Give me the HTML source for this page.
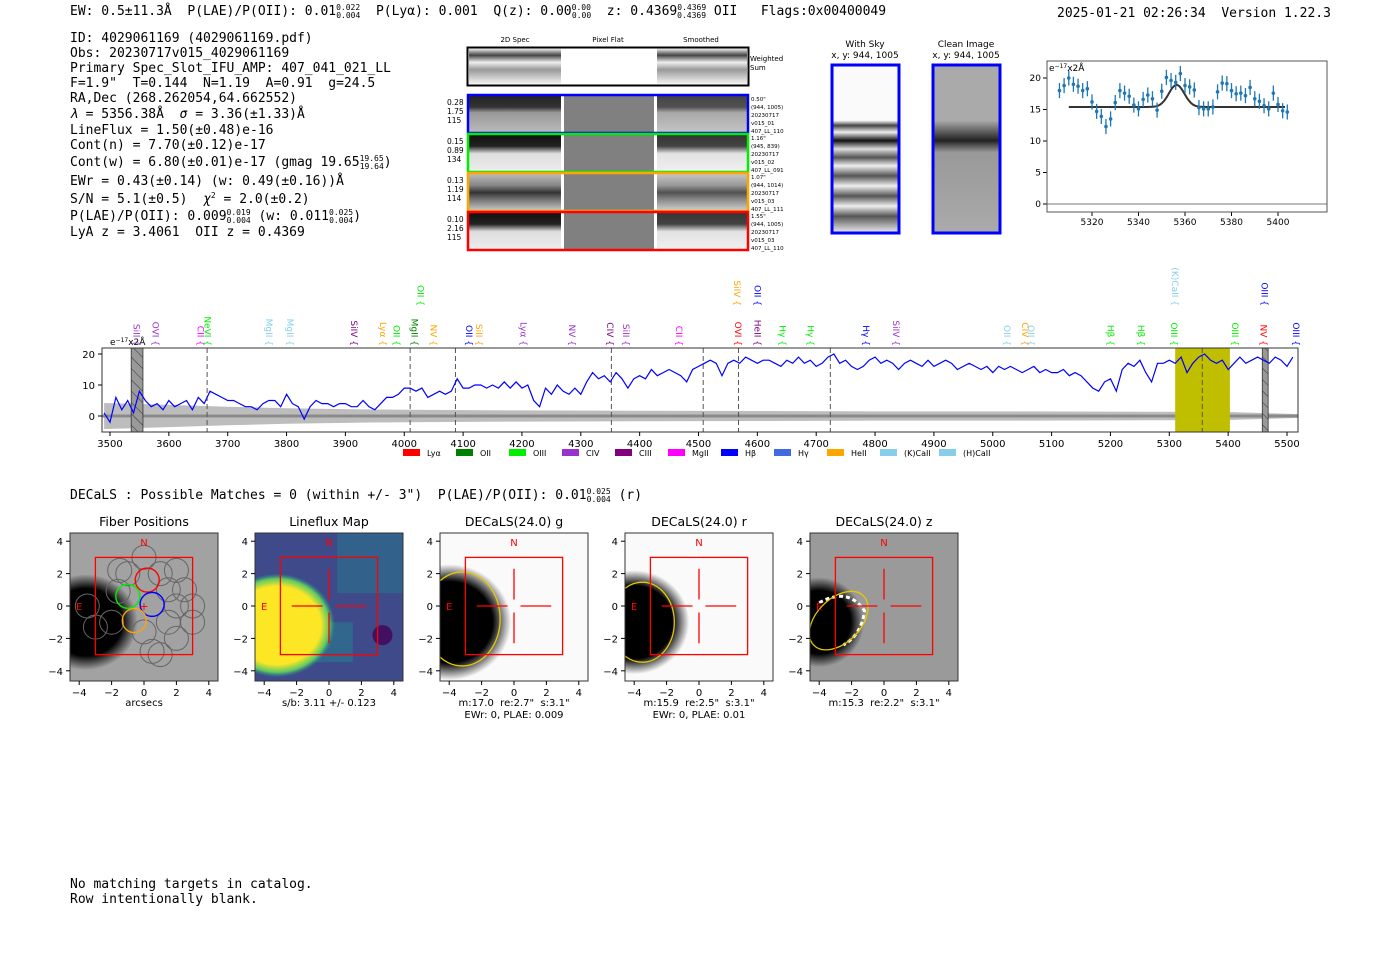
<!DOCTYPE html>
<html><head><meta charset="utf-8">
<style>
html,body{margin:0;padding:0;background:#fff;width:1400px;height:953px;overflow:hidden}
svg{display:block}
text{white-space:pre}
.mono{font-family:"DejaVu Sans Mono","Liberation Mono",monospace;font-size:13px;fill:#000;white-space:pre}
.sans{font-family:"DejaVu Sans","Liberation Sans",sans-serif;fill:#000}
</style></head>
<body>
<svg id="root" width="1400" height="953" viewBox="0 0 1400 953" xmlns="http://www.w3.org/2000/svg" xml:space="preserve">
<defs>
<pattern id="hatch" width="8" height="8" patternUnits="userSpaceOnUse" patternTransform="rotate(-45)">
<rect width="8" height="8" fill="#999"/><line x1="0" y1="0" x2="0" y2="8" stroke="#333" stroke-width="1"/></pattern>
<radialGradient id="blob" cx="50%" cy="50%" r="50%"><stop offset="0.7" stop-color="#000"/><stop offset="1" stop-color="#000" stop-opacity="0"/></radialGradient>
<radialGradient id="yblob" cx="50%" cy="50%" r="50%"><stop offset="0.75" stop-color="#fde725"/><stop offset="0.9" stop-color="#5ec962"/><stop offset="1" stop-color="#21918c" stop-opacity="0"/></radialGradient>
<linearGradient id="rowA" x1="0" y1="0" x2="0" y2="1"><stop offset="0" stop-color="#222"/><stop offset="0.3" stop-color="#333"/><stop offset="0.45" stop-color="#999"/><stop offset="1" stop-color="#bbb"/></linearGradient>
<linearGradient id="rowB" x1="0" y1="0" x2="0" y2="1"><stop offset="0" stop-color="#111"/><stop offset="0.3" stop-color="#222"/><stop offset="0.5" stop-color="#ddd"/><stop offset="1" stop-color="#eee"/></linearGradient>
<linearGradient id="rowC" x1="0" y1="0" x2="0" y2="1"><stop offset="0" stop-color="#bbb"/><stop offset="0.3" stop-color="#888"/><stop offset="0.5" stop-color="#333"/><stop offset="0.7" stop-color="#777"/><stop offset="1" stop-color="#ccc"/></linearGradient>
<linearGradient id="wsum" x1="0" y1="0" x2="0" y2="1"><stop offset="0" stop-color="#fff"/><stop offset="0.2" stop-color="#444"/><stop offset="0.4" stop-color="#eee"/><stop offset="0.6" stop-color="#999"/><stop offset="1" stop-color="#f4f4f4"/></linearGradient>
<linearGradient id="skyG" x1="0" y1="0" x2="0" y2="1"><stop offset="0" stop-color="#fafafa"/><stop offset="0.33" stop-color="#fafafa"/><stop offset="0.36" stop-color="#444"/><stop offset="0.4" stop-color="#eee"/><stop offset="0.45" stop-color="#111"/><stop offset="0.5" stop-color="#ddd"/><stop offset="0.55" stop-color="#555"/><stop offset="0.6" stop-color="#eee"/><stop offset="0.66" stop-color="#555"/><stop offset="0.72" stop-color="#eee"/><stop offset="0.78" stop-color="#555"/><stop offset="0.84" stop-color="#eee"/><stop offset="0.9" stop-color="#555"/><stop offset="1" stop-color="#eee"/></linearGradient>
<linearGradient id="cleanG" x1="0" y1="0" x2="0" y2="1"><stop offset="0" stop-color="#aaa"/><stop offset="0.33" stop-color="#aaa"/><stop offset="0.36" stop-color="#888"/><stop offset="0.45" stop-color="#222"/><stop offset="0.52" stop-color="#999"/><stop offset="1" stop-color="#aaa"/></linearGradient>
</defs>

<text class="mono" x="70" y="15">EW: 0.5±11.3Å  P(LAE)/P(OII): 0.01<tspan font-size="8" dy="-5">0.022</tspan><tspan font-size="8" dx="-24" dy="8">0.004</tspan><tspan dy="-3">  P(Lyα): 0.001  Q(z): 0.00</tspan><tspan font-size="8" dy="-5">0.00</tspan><tspan font-size="8" dx="-19" dy="8">0.00</tspan><tspan dy="-3">  z: 0.4369</tspan><tspan font-size="8" dy="-5">0.4369</tspan><tspan font-size="8" dx="-29" dy="8">0.4369</tspan><tspan dy="-3"> OII   Flags:0x00400049</tspan></text>
<text class="mono" x="1057" y="17">2025-01-21 02:26:34  Version 1.22.3</text>

<g class="mono">
<text class="mono" x="70" y="42">ID: 4029061169 (4029061169.pdf)</text>
<text class="mono" x="70" y="57">Obs: 20230717v015_4029061169</text>
<text class="mono" x="70" y="72">Primary Spec_Slot_IFU_AMP: 407_041_021_LL</text>
<text class="mono" x="70" y="87">F=1.9"  T=0.144  N=1.19  A=0.91  g=24.5</text>
<text class="mono" x="70" y="102">RA,Dec (268.262054,64.662552)</text>
<text class="mono" x="70" y="118"><tspan font-style="italic">λ</tspan> = 5356.38Å  <tspan font-style="italic">σ</tspan> = 3.36(±1.33)Å</text>
<text class="mono" x="70" y="134">LineFlux = 1.50(±0.48)e-16</text>
<text class="mono" x="70" y="149">Cont(n) = 7.70(±0.12)e-17</text>
<text class="mono" x="70" y="166">Cont(w) = 6.80(±0.01)e-17 (gmag 19.65<tspan font-size="8" dy="-5">19.65</tspan><tspan font-size="8" dx="-24" dy="8">19.64</tspan><tspan dy="-3">)</tspan></text>
<text class="mono" x="70" y="185">EWr = 0.43(±0.14) (w: 0.49(±0.16))Å</text>
<text class="mono" x="70" y="203">S/N = 5.1(±0.5)  <tspan font-style="italic">χ</tspan><tspan font-size="8" dy="-5">2</tspan><tspan dy="5"> = 2.0(±0.2)</tspan></text>
<text class="mono" x="70" y="220">P(LAE)/P(OII): 0.009<tspan font-size="8" dy="-5">0.019</tspan><tspan font-size="8" dx="-24" dy="8">0.004</tspan><tspan dy="-3"> (w: 0.011</tspan><tspan font-size="8" dy="-5">0.025</tspan><tspan font-size="8" dx="-24" dy="8">0.004</tspan><tspan dy="-3">)</tspan></text>
<text class="mono" x="70" y="236">LyA z = 3.4061  OII z = 0.4369</text>
</g>

<g font-family="DejaVu Sans, Liberation Sans, sans-serif">
<text x="515" y="42" font-size="7" text-anchor="middle">2D Spec</text>
<text x="608" y="42" font-size="7" text-anchor="middle">Pixel Flat</text>
<text x="701" y="42" font-size="7" text-anchor="middle">Smoothed</text>
<g>
<rect x="469" y="48" width="92" height="36" fill="url(#wsum)"/>
<rect x="657" y="48" width="90" height="36" fill="url(#wsum)"/>
<rect x="467.5" y="47.5" width="281" height="38" fill="none" stroke="#000" stroke-width="2"/>
<text x="750" y="61" font-size="7">Weighted</text><text x="750" y="70" font-size="7">Sum</text>
</g>
<g id="rows"></g>
</g>

<g font-family="DejaVu Sans, Liberation Sans, sans-serif">
<text x="865" y="47" font-size="9" text-anchor="middle">With Sky</text>
<text x="865" y="58" font-size="9" text-anchor="middle">x, y: 944, 1005</text>
<rect x="832" y="65" width="67" height="168" fill="url(#skyG)" stroke="#00f" stroke-width="3"/>
</g>
<g font-family="DejaVu Sans, Liberation Sans, sans-serif">
<text x="966" y="47" font-size="9" text-anchor="middle">Clean Image</text>
<text x="966" y="58" font-size="9" text-anchor="middle">x, y: 944, 1005</text>
<rect x="933" y="65" width="67" height="168" fill="url(#cleanG)" stroke="#00f" stroke-width="3"/>
</g>

<g id="zoomfit"></g>
<g id="spec"></g>

<text class="mono" x="70" y="499">DECaLS : Possible Matches = 0 (within +/- 3")  P(LAE)/P(OII): 0.01<tspan font-size="8" dy="-5">0.025</tspan><tspan font-size="8" dx="-24" dy="8">0.004</tspan><tspan dy="-3"> (r)</tspan></text>

<g id="panels"></g>

<text class="mono" x="70" y="888">No matching targets in catalog.</text>
<text class="mono" x="70" y="903">Row intentionally blank.</text>
</svg>

<script>
// ===== Full spectrum data (flux, e-17, every 10 A from 3490) =====
const specStart = 3490;
const specStep = 10;
const specFlux = [1,-2,6,2,5,1,8,5,3,4, 2,5,3,4,5,2,6,4,8,7, 6,5,5,4,3,3,2,4,5,5, 3,7,4,3,-1,3,5,4,4,3,
 4,4,3,3,5,3,2,4,6,6, 7,9,9,8,9,6,7,8,7,8, 12,9,9,10,10,9,10,9,11,9, 11,9,10,5,3,9,7,10,8,7,
 9,7,11,14,12,13,11,14,12,9, 12,13,12,15,13,14,15,14,13,11, 15,16,17,18,17,13,17,18,17,19, 18,17,18,18,17,16,18,17,19,17,
 18,16,17,19,20,17,18,16,15,16, 18,19,17,18,17,15,17,18,17,16, 18,16,17,18,17,15,16,17,16,15, 16,14,16,15,16,15,14,15,16,14,
 15,14,14,15,13,14,13,11,9,8, 11,12,8,15,17,16,18,14,11,17, 17,18,17,19,14,17,19,20,18,17, 18,15,17,19,17,18,19,18,17,19, 18,16,19];
const errWave = [3490,3600,3700,3800,3900,4000,4200,4400,4600,4800,5000,5200,5400,5519];
const errVal  = [4.2,3.6,3.0,2.5,2.2,2.0,1.8,1.7,1.6,1.5,1.5,1.4,1.3,0.6];
const specTicks = [3500,3600,3700,3800,3900,4000,4100,4200,4300,4400,4500,4600,4700,4800,4900,5000,5100,5200,5300,5400,5500];
const specYTicks = [0,10,20];
const dashedLines = [3665,4010,4087,4352,4508,4568,4724,5356];
const lineNames = ["SiII","OVI","CII","NeVI","MgII","MgII","SiIV","Lyα","OII","MgII","NV","OII","SiII","Lyα","NV","CIV","SiII","CII","OVI","HeII","Hγ","Hγ","Hγ","SiIV","OII","CIV","OII","Hβ","Hβ","OIII","OIII","NV","OIII"];
const lineWaves = [3545,3577,3654,3666,3770,3806,3915,3964,3987,4017,4050,4110,4127,4203,4285,4350,4377,4467,4567,4600,4643,4690,4785,4836,5024,5055,5065,5200,5252,5308,5412,5460,5515];
const lineColors = ["#9932cc","#9932cc","#ff00ff","#00ee00","#87ceeb","#87ceeb","#800080","#ffa500","#00ee00","#008000","#ffa500","#0000ff","#ffa500","#9932cc","#9932cc","#800080","#9932cc","#ff00ff","#ff0000","#800080","#00ee00","#00ee00","#0000ff","#9932cc","#87ceeb","#ffa500","#87ceeb","#00ee00","#00ee00","#00ee00","#00ee00","#ff0000","#0000ff"];
const line2Names = ["OII","SiIV","OII","(K)CaII","OIII"];
const line2Waves = [4028,4565,4600,5310,5462];
const line2Colors = ["#00ee00","#ffa500","#0000ff","#87ceeb","#0000ff"];
const legendNames = ["Lyα","OII","OIII","CIV","CIII","MgII","Hβ","Hγ","HeII","(K)CaII","(H)CaII"];
const legendColors = ["#ff0000","#008000","#00ee00","#9932cc","#800080","#ff00ff","#0000ff","#4169e1","#ffa500","#87ceeb","#87ceeb"];

// ===== Zoomed fit data =====
const fitStart = 5306, fitStep = 2;
const fitFlux = [18,18.8,20,19,18.7,18,18.3,16.2,14.7,13.9,12.3,13.5,16.1,18,17.6,17.1,15.7,15.1,16.6,17.3,16.7,14.9,17.9,20.1,19.6,19.3,20.7,18.8,18.6,18.1,15.3,15.1,15.1,15.4,17.8,19.2,19.1,18,17.5,17.6,17.2,18.5,16.7,16.3,15.6,15.1,17.6,15.8,14.8,14.6];
const fitErr = 1.2;
const fitCont = 15.4, fitAmp = 3.5, fitMu = 5356.38, fitSigma = 3.36;
const fitXTicks = [5320,5340,5360,5380,5400];
const fitYTicks = [0,5,10,15,20];

const NS = "http://www.w3.org/2000/svg";
function mk(tag, attrs, parent, txt){ const e=document.createElementNS(NS,tag); for(const k in attrs) e.setAttribute(k,attrs[k]); if(txt!==undefined) e.textContent=txt; parent.appendChild(e); return e; }
const FONT = "DejaVu Sans, Liberation Sans, sans-serif";

(function(){
  const g=document.getElementById('rows');
  const rows=[{y:95,c:"#0000ff",f:"url(#rowA)",n:["0.28","1.75","115"],t:['0.50"','(944, 1005)','20230717','v015_01','407_LL_110']},
              {y:134,c:"#00ee00",f:"url(#rowB)",n:["0.15","0.89","134"],t:['1.16"','(945, 839)','20230717','v015_02','407_LL_091']},
              {y:173,c:"#ffa500",f:"url(#rowC)",n:["0.13","1.19","114"],t:['1.07"','(944, 1014)','20230717','v015_03','407_LL_111']},
              {y:212,c:"#ff0000",f:"url(#rowB)",n:["0.10","2.16","115"],t:['1.55"','(944, 1005)','20230717','v015_03','407_LL_110']}];
  rows.forEach((r,i)=>{
    const rg=mk('g',{},g);
    
    
    mk('rect',{x:469,y:r.y+1,width:92,height:37,fill:r.f},rg);
    mk('rect',{x:564,y:r.y+1,width:90,height:37,fill:"#808080"},rg);
    mk('rect',{x:657,y:r.y+1,width:90,height:37,fill:r.f,opacity:0.85},rg);
    mk('rect',{x:468,y:r.y,width:280,height:38,fill:"none",stroke:r.c,"stroke-width":2.5},rg);
    r.n.forEach((s,j)=>mk('text',{x:447,y:r.y+10+j*9,"font-size":7.5,"font-family":FONT},rg,s));
    r.t.forEach((s,j)=>mk('text',{x:751,y:r.y+6+j*8,"font-size":5.5,"font-family":FONT},rg,s));
  });
})();

(function(){
  const g=document.getElementById('zoomfit');
  const L=1047,R=1327,T=61,B=212;
  const xs=w=>1092+(w-5320)*2.325, ys=v=>204-v*6.3;
  mk('line',{x1:L,x2:R,y1:ys(0),y2:ys(0),stroke:"#777","stroke-width":1},g);
  fitXTicks.forEach(t=>{ mk('line',{x1:xs(t),x2:xs(t),y1:B,y2:B+4,stroke:"#000"},g); const tx=mk('text',{x:xs(t),y:B+13,"font-size":9,"text-anchor":"middle","font-family":FONT},g,t);   });
  fitYTicks.forEach(t=>{ mk('line',{x1:L-4,x2:L,y1:ys(t),y2:ys(t),stroke:"#000"},g); const tx=mk('text',{x:L-6,y:ys(t)+3,"font-size":9,"text-anchor":"end","font-family":FONT},g,t);   });
  let d="";
  for(let w=5310;w<=5403;w+=0.5){ const v=fitCont+fitAmp*Math.exp(-0.5*Math.pow((w-fitMu)/fitSigma,2)); d+=(d?"L":"M")+xs(w).toFixed(1)+","+ys(v).toFixed(1); }
  const m=mk('path',{d:d,fill:"none",stroke:"#333","stroke-width":2},g);
   
  fitFlux.forEach((v,i)=>{
    const x=xs(fitStart+i*fitStep);
    const pt=mk('g',{},g);
     
    mk('line',{x1:x,x2:x,y1:ys(v-fitErr),y2:ys(v+fitErr),stroke:"#1f77b4","stroke-width":1.3},pt);
    mk('circle',{cx:x,cy:ys(v),r:1.8,fill:"#1f77b4"},pt);
  });
  mk('rect',{x:L,y:T,width:R-L,height:B-T,fill:"none",stroke:"#555","stroke-width":1},g);
  const u=mk('text',{x:L+2,y:T+10,"font-size":9,"font-family":FONT},g,"e");
  mk('tspan',{"font-size":6,dy:-3},u,"−17"); mk('tspan',{dy:3},u,"x2Å");
})();

(function(){
  const g=document.getElementById('spec');
  const L=102,R=1298,T=348,B=432;
  const xs=w=>110+(w-3500)*0.5885, ys=v=>416-v*3.1;
  let up="",dn="";
  for(let i=0;i<errWave.length;i++){ up+=(i?"L":"M")+xs(errWave[i])+","+ys(errVal[i]); }
  for(let i=errWave.length-1;i>=0;i--){ dn+="L"+xs(errWave[i])+","+ys(-errVal[i]); }
  const band=mk('path',{d:up+dn+"Z",fill:"#bdbdbd"},g);
   
  mk('line',{x1:L,x2:R,y1:ys(0),y2:ys(0),stroke:"#8a8a8a","stroke-width":3},g);
  const hb=mk('rect',{x:xs(5310),y:T,width:xs(5403)-xs(5310),height:B-T,fill:"#bfbf00"},g);
   
  [[3536,3556],[5458,5468]].forEach(p=>{ const r=mk('rect',{x:xs(p[0]),y:T,width:xs(p[1])-xs(p[0]),height:B-T,fill:"url(#hatch)",stroke:"#333","stroke-width":0.8},g);   });
  dashedLines.forEach(w=>{ const l=mk('line',{x1:xs(w),x2:xs(w),y1:T,y2:B,stroke:"#555","stroke-dasharray":"5,3","stroke-width":1},g);   });
  let d="";
  specFlux.forEach((v,i)=>{ d+=(i?"L":"M")+xs(specStart+i*specStep).toFixed(1)+","+ys(v).toFixed(1); });
  const sp=mk('path',{d:d,fill:"none",stroke:"#0000ff","stroke-width":1.2},g);
   
  mk('rect',{x:L,y:T,width:R-L,height:B-T,fill:"none",stroke:"#333","stroke-width":1},g);
  specTicks.forEach(t=>{ mk('line',{x1:xs(t),x2:xs(t),y1:B,y2:B+4,stroke:"#000"},g); const tx=mk('text',{x:xs(t),y:B+15,"font-size":10,"text-anchor":"middle","font-family":FONT},g,t);   });
  specYTicks.forEach(t=>{ mk('line',{x1:L-4,x2:L,y1:ys(t),y2:ys(t),stroke:"#000"},g); const tx=mk('text',{x:L-7,y:ys(t)+4,"font-size":10,"text-anchor":"end","font-family":FONT},g,t);   });
  const u=mk('text',{x:110,y:345,"font-size":9,"font-family":FONT},g,"e");
  mk('tspan',{"font-size":6,dy:-3},u,"−17"); mk('tspan',{dy:3},u,"x2Å");
  lineNames.forEach((n,i)=>{ const x=xs(lineWaves[i]); const t=mk('text',{x:x,y:346,"font-size":9,"text-anchor":"end",fill:lineColors[i],"font-family":FONT,transform:"rotate(90 "+x+" 346)",dy:"3"},g,n+" {");   });
  line2Names.forEach((n,i)=>{ const x=xs(line2Waves[i]); const t=mk('text',{x:x,y:306,"font-size":9,"text-anchor":"end",fill:line2Colors[i],"font-family":FONT,transform:"rotate(90 "+x+" 306)",dy:"3"},g,n+" {");   });
  let lx=403;
  legendNames.forEach((n,i)=>{ const lg=mk('g',{},g);  
    mk('rect',{x:lx,y:449,width:17,height:7,fill:legendColors[i]},lg);
    mk('text',{x:lx+24,y:456,"font-size":8,"font-family":FONT},lg,n); lx+= (n.length>5?59:53); });
})();

(function(){
  const g=document.getElementById('panels');
  const panels=[{x:70,title:"Fiber Positions",bg:"#a2a2a2",cap:["arcsecs"]},
    {x:255,title:"Lineflux Map",bg:"#3e4a89",cap:["s/b: 3.11 +/- 0.123"]},
    {x:440,title:"DECaLS(24.0) g",bg:"#fafafa",cap:['m:17.0  re:2.7"  s:3.1"',"EWr: 0, PLAE: 0.009"]},
    {x:625,title:"DECaLS(24.0) r",bg:"#fafafa",cap:['m:15.9  re:2.5"  s:3.1"',"EWr: 0, PLAE: 0.01"]},
    {x:810,title:"DECaLS(24.0) z",bg:"#9a9a9a",cap:['m:15.3  re:2.2"  s:3.1"']}];
  const ticks=[-4,-2,0,2,4];
  panels.forEach((p,pi)=>{
    const pg=mk('g',{},g);
     
    const W=148, T=533, ox=p.x+74, oy=606, sc=16.2;
    const X=v=>ox+v*sc, Y=v=>oy-v*sc;
    const cpEl=mk('clipPath',{id:"cp"+pi},pg);
    mk('rect',{x:p.x,y:T,width:W,height:W},cpEl);
    const im=mk('g',{"clip-path":"url(#cp"+pi+")"},pg);
    mk('rect',{x:p.x,y:T,width:W,height:W,fill:p.bg},im);
    if(pi===1){
      mk('rect',{x:X(0.5),y:Y(4.5),width:70,height:60,fill:"#2c728e",opacity:0.6},im);
      mk('rect',{x:X(-1),y:Y(-1),width:40,height:40,fill:"#2c728e",opacity:0.7},im);
      mk('ellipse',{cx:X(-3.2),cy:Y(-1.2),rx:58,ry:52,fill:"url(#yblob)"},im);
      mk('circle',{cx:X(3.3),cy:Y(-1.8),r:10,fill:"#440154",opacity:0.8},im);
    } else if(pi===0){
      mk('ellipse',{cx:X(-3.6),cy:Y(-1),rx:52,ry:48,fill:"url(#blob)"},im);
    } else if(pi===2){
      mk('ellipse',{cx:X(-4),cy:Y(-1),rx:62,ry:58,fill:"url(#blob)"},im);
    } else if(pi===3){
      mk('ellipse',{cx:X(-4),cy:Y(-1),rx:55,ry:52,fill:"url(#blob)"},im);
    } else {
      mk('ellipse',{cx:X(-4),cy:Y(-1),rx:45,ry:45,fill:"url(#blob)"},im);
      mk('path',{d:`M${X(-4)},${Y(0.2)} Q${X(-2.2)},${Y(1.2)} ${X(-1.2)},${Y(-0.3)} Q${X(-1.4)},${Y(-1.8)} ${X(-2.5)},${Y(-2.4)}`,fill:"none",stroke:"#fff","stroke-width":3,"stroke-dasharray":"4,3"},im);
    }
    if(pi===0){
      const fib=[[0,3],[1,2],[-1,2],[2,2.2],[2.5,1],[1.5,1],[3,0],[2,0],[1.5,-1],[3,-1],[0,-1.6],[2,-2],[0.5,-2.8],[1,-3],[-1.5,2.2],[-3,-1.3],[-2,-1],[-3.5,0],[-1.6,0.9]];
      fib.forEach(f=>mk('circle',{cx:X(f[0]),cy:Y(f[1]),r:12,fill:"none",stroke:"#666","stroke-width":1},im));
      [["#ff0000",0.2,1.6],["#00ee00",-1,0.6],["#0000ff",0.5,0.1],["#ffa500",-0.6,-0.9]].forEach(c=>mk('circle',{cx:X(c[1]),cy:Y(c[2]),r:12,fill:"none",stroke:c[0],"stroke-width":1.4},im));
      mk('text',{x:X(0),y:Y(0)+4,"font-size":11,fill:"#f00","text-anchor":"middle","font-family":FONT},im,"+");
    }
    if(pi>=2){
      const e=[[X(-3.2),Y(-0.8),38,47,0],[X(-3.5),Y(-1),32,40,0],[X(-2.8),Y(-0.9),22,35,45]][pi-2];
      mk('ellipse',{cx:e[0],cy:e[1],rx:e[2],ry:e[3],fill:"none",stroke:"#e6c800","stroke-width":1.3,transform:`rotate(${e[4]} ${e[0]} ${e[1]})`},im);
    }
    mk('rect',{x:X(-3),y:Y(3),width:6*sc,height:6*sc,fill:"none",stroke:"#f00","stroke-width":1.3},im);
    if(pi>=1){
      [[X(-2.3),Y(0),X(-0.4),Y(0)],[X(0.4),Y(0),X(2.3),Y(0)],[X(0),Y(2.3),X(0),Y(0.4)],[X(0),Y(-0.4),X(0),Y(-2.3)]].forEach(l=>mk('line',{x1:l[0],y1:l[1],x2:l[2],y2:l[3],stroke:"#f00","stroke-width":1.3},im));
    }
    mk('text',{x:X(0),y:Y(3.7),"font-size":10,fill:"#f00","text-anchor":"middle","font-family":FONT},im,"N");
    mk('text',{x:X(-4),y:Y(0)+4,"font-size":10,fill:"#f00","text-anchor":"middle","font-family":FONT},im,"E");
    mk('rect',{x:p.x,y:T,width:W,height:W,fill:"none",stroke:"#333","stroke-width":1},pg);
    const tt=mk('text',{x:p.x+74,y:526,"font-size":12.5,"text-anchor":"middle","font-family":FONT},pg,p.title);
     
    ticks.forEach(t=>{
      mk('line',{x1:X(t),x2:X(t),y1:T+W,y2:T+W+4,stroke:"#000"},pg);
      mk('text',{x:X(t),y:T+W+15,"font-size":10,"text-anchor":"middle","font-family":FONT},pg,t<0?"−"+(-t):t);
      mk('line',{x1:p.x-4,x2:p.x,y1:Y(t),y2:Y(t),stroke:"#000"},pg);
      mk('text',{x:p.x-7,y:Y(t)+4,"font-size":10,"text-anchor":"end","font-family":FONT},pg,t<0?"−"+(-t):t);
    });
    p.cap.forEach((c,j)=>mk('text',{x:p.x+74,y:706+j*12,"font-size":10,"text-anchor":"middle","font-family":FONT},pg,c));
  });
})();
</script>
</body></html>
